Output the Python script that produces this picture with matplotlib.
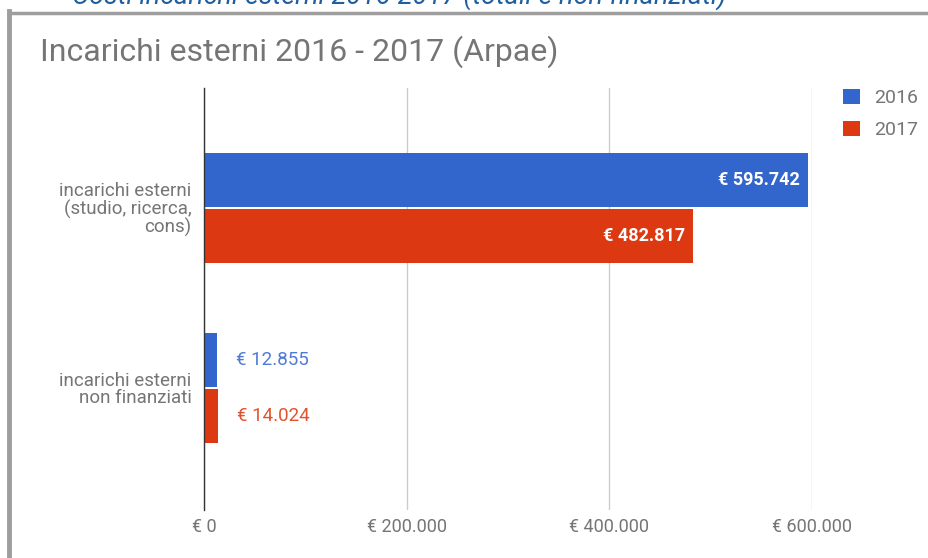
import matplotlib
matplotlib.use("Agg")
import matplotlib.pyplot as plt
from matplotlib.lines import Line2D
import numpy as np

plt.rcParams['font.family'] = ['Roboto', 'DejaVu Sans']

categories = ["incarichi esterni\n(studio, ricerca,\ncons)", "incarichi esterni\nnon finanziati"]
values_2016 = [595742, 12855]
values_2017 = [482817, 14024]
series_names = ["2016", "2017"]
xticks = [0, 200000, 400000, 600000]
xtick_labels = ["€ 0", "€ 200.000", "€ 400.000", "€ 600.000"]

blue = "#3366cc"
red = "#dc3912"
grey_text = "#757575"

def euro(v):
    return "€ " + f"{v:,}".replace(",", ".")

fig = plt.figure(figsize=(9.29, 5.58), dpi=100)
ax = fig.add_axes([204 / 929, 48 / 558, (812 - 204) / 929, (510 - 88) / 558])

y = np.arange(len(categories))
h = 0.30
off = 0.158
b1 = ax.barh(y - off, values_2016, height=h, color=blue, label=series_names[0], linewidth=0)
b2 = ax.barh(y + off, values_2017, height=h, color=red, label=series_names[1], linewidth=0)

ax.set_xlim(0, 600000)
ax.set_ylim(1 + 122 / 180, -120 / 180)

ax.set_xticks(xticks)
ax.set_xticklabels(xtick_labels, color=grey_text, fontsize=13)
ax.set_yticks(y)
ax.set_yticklabels(categories, color=grey_text, fontsize=13.5, linespacing=0.95)
ax.tick_params(axis='both', length=0)
ax.tick_params(axis='x', pad=6)
ax.tick_params(axis='y', pad=9)

ax.grid(axis='x', color="#cccccc", linewidth=1)
ax.set_axisbelow(True)
for s in ["top", "right", "bottom"]:
    ax.spines[s].set_visible(False)
ax.spines["left"].set_color("#333333")
ax.spines["left"].set_linewidth(1)
ax.spines["left"].set_zorder(5)

# value labels
for bars, vals, col, light in [(b1, values_2016, blue, "#4f7ad6"), (b2, values_2017, red, "#e2522f")]:
    for bar, v in zip(bars, vals):
        cy = bar.get_y() + bar.get_height() / 2
        if v > 100000:
            ax.text(v - 8000, cy, euro(v), ha='right', va='center', color='white',
                    fontsize=13, fontweight='bold')
        else:
            ax.text(v + 19000, cy, euro(v), ha='left', va='center', color=light, fontsize=13.5)

# legend
leg = ax.legend(loc='upper left', bbox_to_anchor=(1.023, 1.04), frameon=False,
                fontsize=14, labelcolor=grey_text, handlelength=0.85, handleheight=0.85,
                handletextpad=0.75, labelspacing=0.7)

# title and cut-off heading
fig.text(40 / 929, 1 - 52 / 558, "Incarichi esterni 2016 - 2017 (Arpae)", fontsize=23,
         color=grey_text, ha='left', va='center')
fig.text(72 / 929, 1 - 4 / 558, "Costi incarichi esterni 2016-2017 (totali e non finanziati)",
         fontsize=19.5, color="#1f5f9f", style='italic', ha='left', va='baseline')

# grey frame
fig.add_artist(Line2D([9.5 / 929, 9.5 / 929], [0, 1 - 11 / 558], color="#9e9e9e", linewidth=3.5,
                      transform=fig.transFigure, solid_capstyle='projecting'))
fig.add_artist(Line2D([9.5 / 929, 1], [1 - 12.5 / 558, 1 - 12.5 / 558], color="#9e9e9e", linewidth=2.5,
                      transform=fig.transFigure))

fig.savefig("out.png", dpi=100)
